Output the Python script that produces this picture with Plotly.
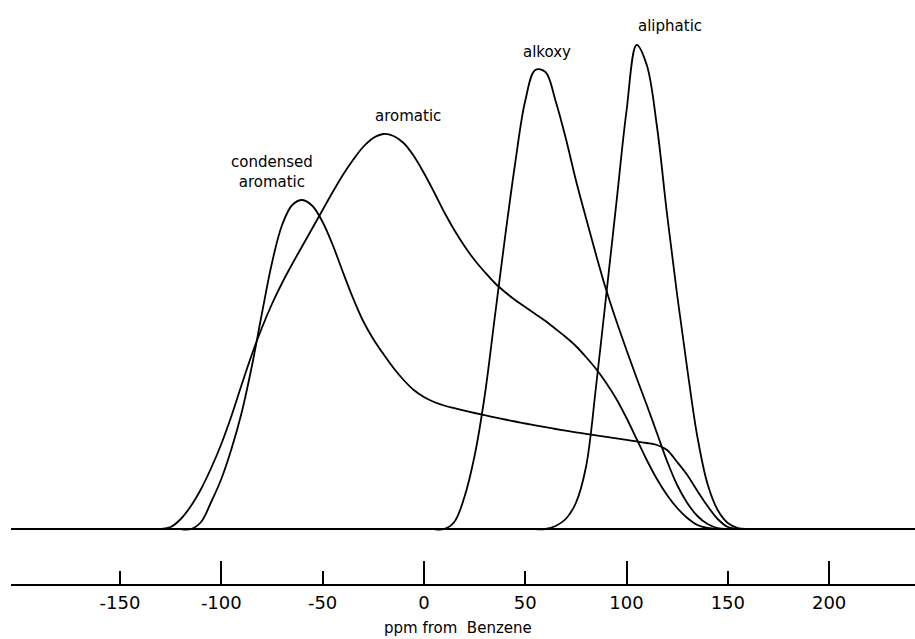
import plotly.graph_objects as go

# ---- data: intensity (arbitrary units) at each ppm position ----
arom_ppm = [-135, -130, -125, -120, -115, -110, -105, -100, -95, -90, -85, -80, -75, -70, -65, -60,
            -55, -50, -45, -40, -35, -30, -25, -20, -15, -10, -5, 0, 5, 10, 15, 20, 25, 30, 35,
            40, 45, 50, 55, 60, 65, 70, 75, 80, 85, 90, 95, 100, 105, 110, 115, 120, 125, 130,
            135, 140, 145]
arom_h = [0, 0, 2, 10, 23, 40, 61, 85, 113, 144, 174, 201, 225, 246, 265, 283,
          301, 319, 337, 354, 369, 382, 391, 395, 393, 386, 373, 356, 337, 317, 299, 283, 269, 257, 246,
          237, 229, 222, 215, 208, 200, 192, 183, 172, 160, 146, 130, 111, 90, 69, 50, 34, 21, 11,
          4, 1, 0]

cond_ppm = [-120, -115, -110, -105, -100, -95, -90, -85, -80, -75, -70, -65, -60, -55, -50, -45,
            -40, -35, -30, -25, -20, -15, -10, -5, 0, 5, 10, 15, 20, 25, 30, 35, 40, 45, 50, 55,
            60, 65, 70, 75, 80, 85, 90, 95, 100, 105, 110, 115, 120, 125, 130, 135, 140, 145,
            150, 155, 160]
cond_h = [0, 0, 7, 27, 50, 80, 116, 162, 215, 266, 304, 324, 329, 323, 307, 284,
          257, 231, 208, 190, 175, 161, 149, 139, 132, 127, 123.5, 120.8, 118.3, 116, 113.8, 111.6, 109.5, 107.5, 105.5, 103.6,
          101.8, 100, 98.3, 96.7, 95.1, 93.6, 92.1, 90.6, 89.1, 87.6, 86, 84, 79, 67, 54, 38, 23, 10,
          2, 0, 0]

alk_ppm = [5, 10, 15, 20, 25, 30, 35, 40, 45, 50, 55, 60, 65, 70, 75, 80, 85, 90, 95, 100, 105,
           110, 115, 120, 125, 130, 135, 140, 145, 150, 155]
alk_h = [0, 0, 7, 32, 73, 133, 212, 291, 365, 428, 459, 457, 428, 391, 349, 311, 274, 239, 208, 179, 151,
         124, 96, 68, 44, 26, 13, 5, 1, 0, 0]

ali_ppm = [55, 60, 65, 70, 75, 80, 85, 90, 95, 100, 105, 110, 115, 120, 125, 130, 135, 140, 145,
           150, 155, 160, 165]
ali_h = [0, 0, 3, 10, 26, 62, 143, 234, 326, 418, 484, 464, 403, 315, 234, 160, 92, 45, 19,
         6, 1, 0, 0]

major_ticks = [-100, 0, 100, 200]
minor_ticks = [-150, -50, 50, 150]
label_texts = ["condensed<br>aromatic", "aromatic", "alkoxy", "aliphatic"]
axis_title = "ppm from\u00a0 Benzene"

W, H = 915, 639
X_RANGE = [-203.8, 242.4]
Y_RANGE = [-110, 529]
AXIS_POS = (H - 585) / H

fig = go.Figure()
for xs, ys in [(arom_ppm, arom_h), (cond_ppm, cond_h), (alk_ppm, alk_h), (ali_ppm, ali_h)]:
    fig.add_trace(go.Scatter(x=xs, y=ys, mode="lines",
                             line=dict(color="black", width=1.8, shape="spline", smoothing=1.0),
                             showlegend=False, hoverinfo="skip"))

# invisible trace to activate the minor-tick axis
fig.add_trace(go.Scatter(x=[X_RANGE[0]], y=[0], xaxis="x2", mode="markers",
                         marker=dict(opacity=0), showlegend=False, hoverinfo="skip"))

tick_font = dict(family="DejaVu Sans", size=18, color="black")
common_axis = dict(range=X_RANGE, domain=[11 / W, 1], anchor="free", position=AXIS_POS,
                   showgrid=False, zeroline=False, showline=True, linecolor="black", linewidth=2,
                   ticks="inside", tickwidth=1.6, tickcolor="black", tickfont=tick_font,
                   ticklabelstandoff=1)
fig.update_layout(
    width=W, height=H,
    margin=dict(l=0, r=0, t=0, b=0),
    paper_bgcolor="white", plot_bgcolor="white",
    xaxis=dict(**common_axis, tickvals=major_ticks, ticktext=[str(v) for v in major_ticks], ticklen=23),
    xaxis2=dict(**common_axis, overlaying="x", side="bottom",
                tickvals=minor_ticks, ticktext=[str(v) for v in minor_ticks], ticklen=13),
    yaxis=dict(range=Y_RANGE, showgrid=False, showticklabels=False, ticks="",
               showline=False, zeroline=True, zerolinecolor="black", zerolinewidth=2),
)

lab_font = dict(family="DejaVu Sans", size=15, color="black")
label_pos = [(-75.0, 357), (-7.9, 413), (60.7, 477), (121.4, 503)]
for txt, (lx, ly) in zip(label_texts, label_pos):
    fig.add_annotation(x=lx, y=ly, xref="x", yref="y", text=txt, showarrow=False,
                       font=lab_font, xanchor="center", yanchor="middle")

fig.add_annotation(x=0.5, y=(H - 628) / H, xref="paper", yref="paper", text=axis_title,
                   showarrow=False, font=dict(family="DejaVu Sans", size=15, color="black"),
                   xanchor="center", yanchor="middle")

fig.write_html("out.html")
